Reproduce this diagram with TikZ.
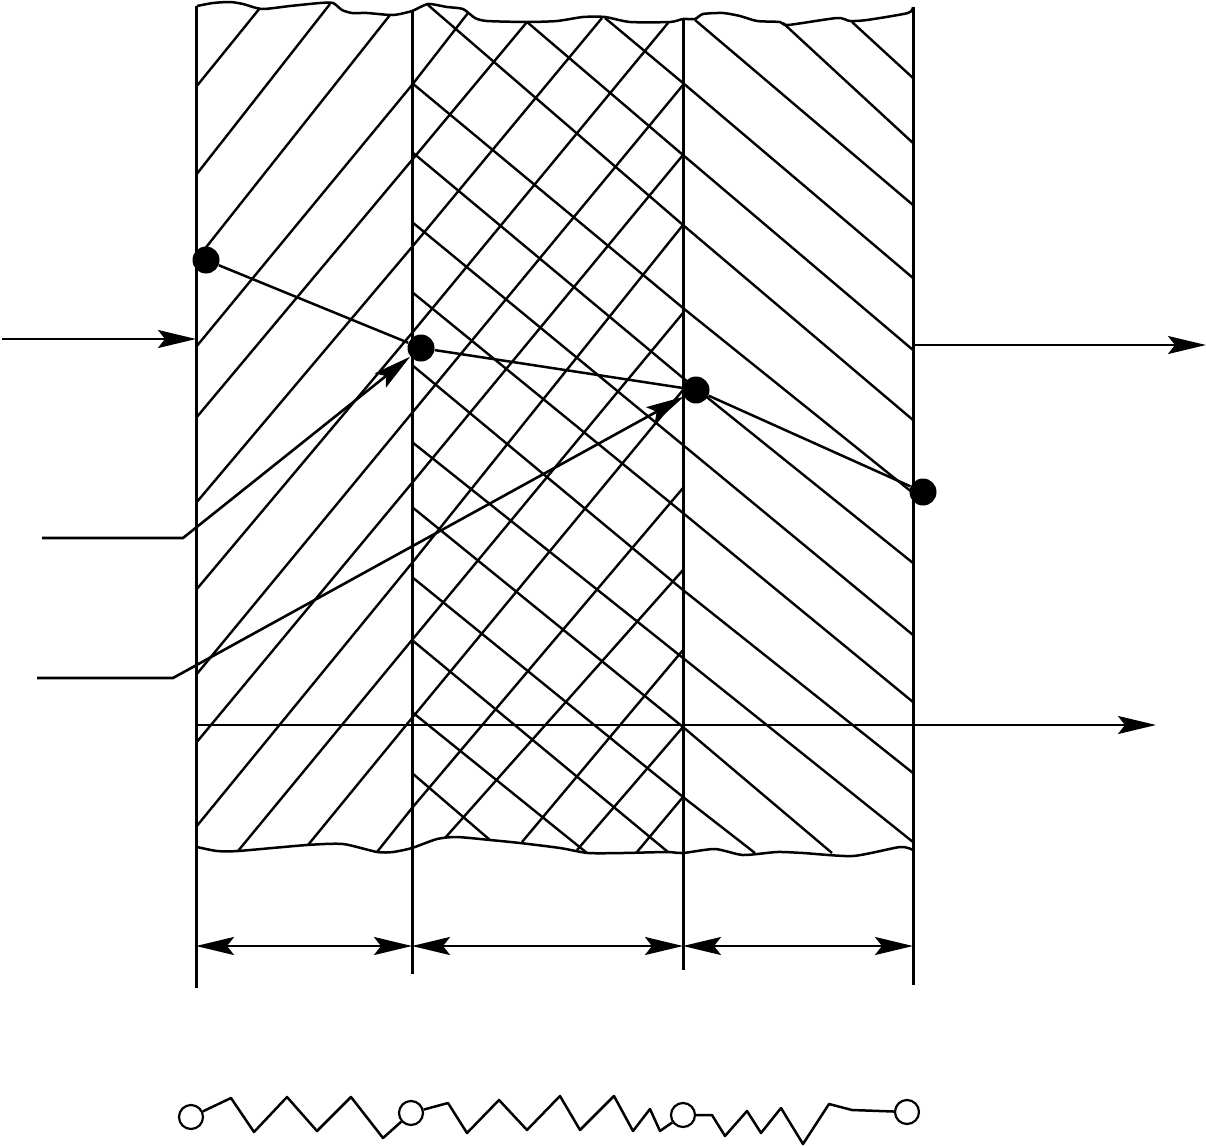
\documentclass[tikz,border=0pt]{standalone}
\usepackage{xcolor}
\usepackage{tikz}
\usetikzlibrary{arrows.meta}

\begin{document}
\begin{tikzpicture}[x=0.5pt, y=-0.5pt]
    % Styles
    \tikzstyle{wall} = [line width=1.5pt]
    \tikzstyle{hatch} = [line width=1.2pt]
    \tikzstyle{edge} = [line width=1.25pt, line join=round]
    \tikzstyle{arrow} = [line width=1.3pt, -{Stealth[length=19pt, width=9pt, inset=3.5pt]}]
    \tikzstyle{span} = [line width=1.3pt, {Stealth[length=19pt, width=9pt, inset=3.5pt]}-{Stealth[length=19pt, width=9pt, inset=3.5pt]}]
    \tikzstyle{dot} = [circle, fill=black, inner sep=0pt, minimum size=13.5pt]
    \tikzstyle{term} = [circle, draw=black, fill=white, line width=1.1pt, inner sep=0pt, minimum size=12pt]

    \useasboundingbox (0,0) rectangle (1206,1146);

    % Hatching, left layer
    \foreach \a/\b in {347/85, 418/160, 503/247, 590/333, 675/413, 743/483, 827/563}
        \draw [hatch] (196,\a) -- (412,\b);
    \draw [hatch] (196,87) -- (260,8);
    \draw [hatch] (196,175) -- (330,4);
    \draw [hatch] (196,260) -- (390,15);
    \draw [hatch] (238,851) -- (412,640);
    \draw [hatch] (308,845) -- (412,718);
    \draw [hatch] (377,852) -- (412,808);

    % Hatching, middle layer
    \foreach \a/\b in {413/85, 483/155, 563/225, 640/313, 718/390, 808/488}
        \draw [hatch] (412,\a) -- (683,\b);
    \draw [hatch] (412,85) -- (468,13);
    \draw [hatch] (412,160) -- (527,22);
    \draw [hatch] (412,247) -- (602,18);
    \draw [hatch] (412,333) -- (668,23);
    \draw [hatch] (445,838) -- (683,570);
    \draw [hatch] (522,842) -- (683,650);
    \draw [hatch] (577,850) -- (683,727);
    \draw [hatch] (637,852) -- (683,797);
    \foreach \a/\b in {83/308, 152/378, 222/445, 292/513, 365/590, 442/658, 507/727, 577/797}
        \draw [hatch] (412,\a) -- (683,\b);
    \draw [hatch] (428,5) -- (683,225);
    \draw [hatch] (527,22) -- (683,155);
    \draw [hatch] (605,18) -- (683,83);
    \draw [hatch] (412,640) -- (668,852);
    \draw [hatch] (412,712) -- (587,853);
    \draw [hatch] (412,773) -- (490,840);

    % Hatching, right layer
    \foreach \a/\b in {83/278, 155/350, 225/420, 308/493, 378/563, 445/635, 513/702, 590/773, 658/842}
        \draw [hatch] (683,\a) -- (913,\b);
    \draw [hatch] (695,20) -- (913,205);
    \draw [hatch] (783,23) -- (913,143);
    \draw [hatch] (852,22) -- (913,78);
    \draw [hatch] (683,727) -- (832,853);
    \draw [hatch] (683,797) -- (755,853);

    % Torn edges
    \draw [edge] plot [smooth, tension=0.4] coordinates {(197,6) (213,3) (230,2) (243,4) (262,9) (290,6) (320,3) (333,3) (342,10) (352,13) (367,13) (393,15) (412,11) (428,4) (447,7) (463,9) (475,18) (487,21) (527,22) (557,21) (583,17) (605,17) (630,22) (670,22) (683,19) (695,19) (703,14) (723,13) (740,16) (757,21) (780,22) (788,25) (837,18) (850,21) (867,20) (908,13) (913,7)};
    \draw [edge] plot [smooth, tension=0.4] coordinates {(197,847) (217,851) (238,851) (307,845) (343,844) (377,852) (393,852) (412,848) (437,839) (457,837) (490,840) (520,843) (560,848) (588,853) (623,853) (667,852) (683,853) (715,849) (743,855) (777,852) (803,853) (853,856) (900,847) (913,850)};

    % Walls
    \draw [wall] (196,6) -- (196,988);
    \draw [wall] (412,11) -- (412,974);
    \draw [wall] (683,19) -- (683,970);
    \draw [wall] (913,7) -- (913,985);

    % Nodes
    \node (dotA) [dot] at (206,260) {};
    \node (dotB) [dot] at (421,348) {};
    \node (dotC) [dot] at (696,390) {};
    \node (dotD) [dot] at (923,492) {};
    \node (termA) [term] at (191,1117) {};
    \node (termB) [term] at (411,1113) {};
    \node (termC) [term] at (683,1115) {};
    \node (termD) [term] at (907,1112) {};

    \coordinate (inS) at (2,339);
    \coordinate (inE) at (196,339);
    \coordinate (outS) at (914,345);
    \coordinate (outE) at (1206,345);
    \coordinate (axisS) at (196,725);
    \coordinate (axisE) at (1156,725);
    \coordinate (leadB) at (42,538);
    \coordinate (leadC) at (37,678);
    \coordinate (spanA) at (196,946);
    \coordinate (spanB) at (412,946);
    \coordinate (spanC) at (683,946);
    \coordinate (spanD) at (913,946);

    % Arrows
    \draw [edge] (dotA) -- (dotB);
    \draw [edge] (dotB) -- (dotC);
    \draw [edge] (dotC) -- (dotD);
    \draw [arrow] (inS) -- (inE);
    \draw [arrow] (outS) -- (outE);
    \draw [arrow] (axisS) -- (axisE);
    \draw [arrow] (leadB) -- (183,538) -- (dotB);
    \draw [arrow] (leadC) -- (173,678) -- (dotC);
    \draw [span] (spanA) -- (spanB);
    \draw [span] (spanB) -- (spanC);
    \draw [span] (spanC) -- (spanD);

    % Resistors
    \draw [edge] (termA) -- (231,1098) -- (254,1132) -- (287,1097) -- (317,1131) -- (351,1097) -- (383,1138) -- (termB);
    \draw [edge] (termB) -- (448,1103) -- (467,1133) -- (499,1100) -- (527,1130) -- (560,1096) -- (580,1130) -- (614,1096) -- (633,1131) -- (650,1109) -- (660,1131) -- (termC);
    \draw [edge] (termC) -- (712,1115) -- (725,1136) -- (747,1111) -- (761,1133) -- (781,1108) -- (803,1144) -- (829,1104) -- (852,1110) -- (termD);
\end{tikzpicture}
\end{document}
